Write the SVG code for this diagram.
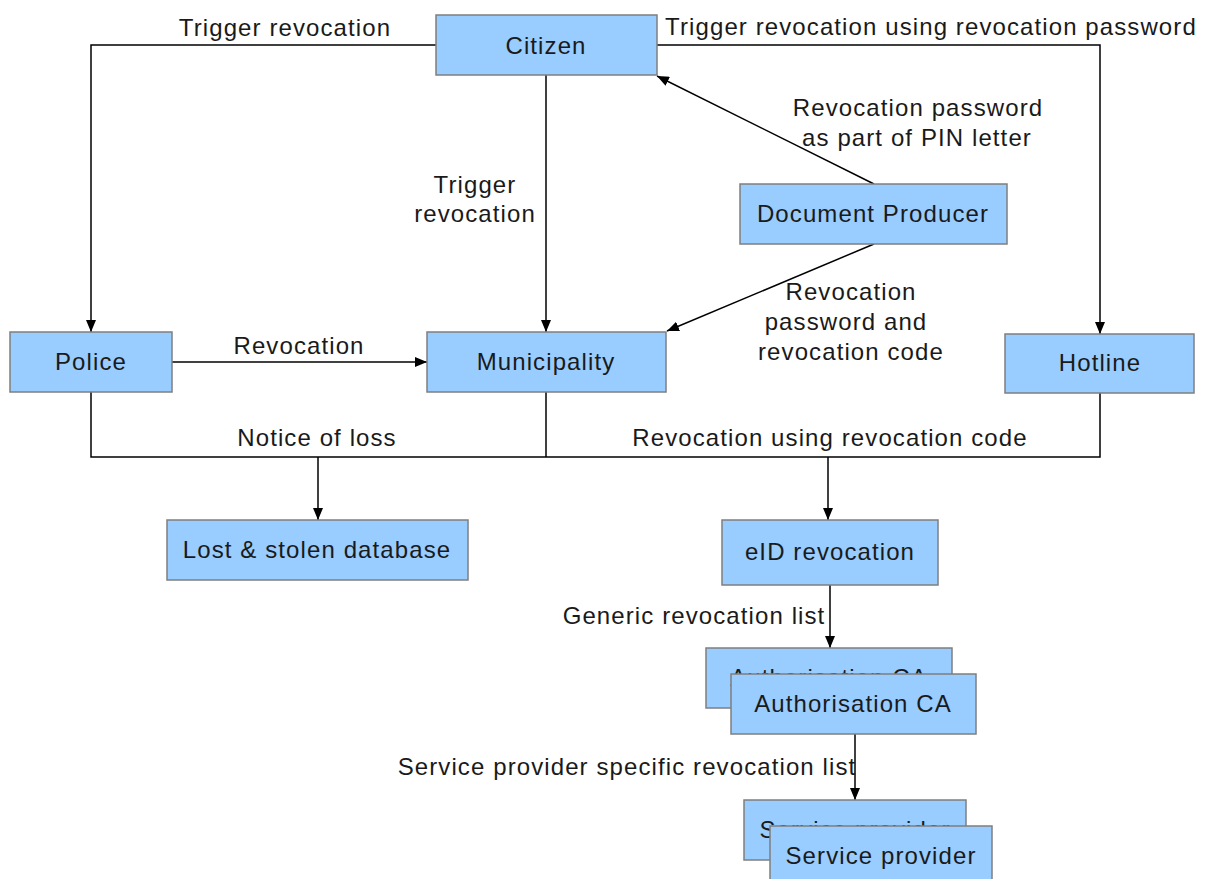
<svg xmlns="http://www.w3.org/2000/svg" width="1207" height="879" viewBox="0 0 1207 879">
<defs>
<marker id="arr" viewBox="0 0 12 10" refX="12" refY="5" markerWidth="12" markerHeight="10" markerUnits="userSpaceOnUse" orient="auto">
<path d="M0,0 L12,5 L0,10 z" fill="#000"/>
</marker>
<style>
.box{fill:#99ccff;stroke:#7f7f7f;stroke-width:1.5}
.t{font-family:"Liberation Sans",Arial,sans-serif;font-size:24px;letter-spacing:1.1px;fill:#1a1a1a;text-anchor:middle}
.c{fill:none;stroke:#000;stroke-width:1.5}
.a{marker-end:url(#arr)}
</style>
</defs>
<rect width="1207" height="879" fill="#fff"/>
<g id="connectors">
<path class="c a" d="M436,45 H91 V332"/>
<path class="c a" d="M657,45 H1100 V334"/>
<path class="c a" d="M546,75 V332"/>
<path class="c a" d="M874,184 L657,76"/>
<path class="c a" d="M874,244 L667,331"/>
<path class="c a" d="M172,362 H427"/>
<path class="c" d="M91,392 V457 H1100 V393"/>
<path class="c" d="M546,392 V457"/>
<path class="c a" d="M318,457 V520"/>
<path class="c a" d="M828,457 V520"/>
<path class="c a" d="M830,585 V648"/>
<path class="c a" d="M855,734 V800"/>
<text class="t" x="285" y="36">Trigger revocation</text>
<text class="t" x="931" y="35">Trigger revocation using revocation password</text>
<text class="t" x="475" y="193">Trigger</text>
<text class="t" x="475" y="222">revocation</text>
<text class="t" x="918" y="116">Revocation password</text>
<text class="t" x="917" y="146">as part of PIN letter</text>
<text class="t" x="851" y="300">Revocation</text>
<text class="t" x="846" y="330">password and</text>
<text class="t" x="851" y="360">revocation code</text>
<text class="t" x="299" y="354">Revocation</text>
<text class="t" x="317" y="446">Notice of loss</text>
<text class="t" x="830" y="446">Revocation using revocation code</text>
<text class="t" x="694" y="624">Generic revocation list</text>
<text class="t" x="627" y="775">Service provider specific revocation list</text>
</g>
<g id="citizen"><rect class="box" x="436" y="15" width="221" height="60"/><text class="t" x="546" y="54">Citizen</text></g>
<g id="document-producer"><rect class="box" x="740" y="184" width="267" height="60"/><text class="t" x="873" y="222">Document Producer</text></g>
<g id="police"><rect class="box" x="10" y="332" width="162" height="60"/><text class="t" x="91" y="370">Police</text></g>
<g id="municipality"><rect class="box" x="427" y="332" width="239" height="60"/><text class="t" x="546" y="370">Municipality</text></g>
<g id="hotline"><rect class="box" x="1005" y="334" width="189" height="59"/><text class="t" x="1100" y="371">Hotline</text></g>
<g id="lost-stolen"><rect class="box" x="167" y="520" width="301" height="60"/><text class="t" x="317" y="558">Lost &amp; stolen database</text></g>
<g id="eid-revocation"><rect class="box" x="722" y="520" width="216" height="65"/><text class="t" x="830" y="560">eID revocation</text></g>
<g id="authorisation-ca">
<rect class="box" x="706" y="648" width="246" height="60"/><text class="t" x="829" y="686">Authorisation CA</text>
<rect class="box" x="731" y="674" width="245" height="60"/><text class="t" x="853" y="712">Authorisation CA</text>
</g>
<g id="service-provider">
<rect class="box" x="744" y="800" width="222" height="60"/><text class="t" x="855" y="838">Service provider</text>
<rect class="box" x="770" y="826" width="222" height="60"/><text class="t" x="881" y="864">Service provider</text>
</g>
</svg>
